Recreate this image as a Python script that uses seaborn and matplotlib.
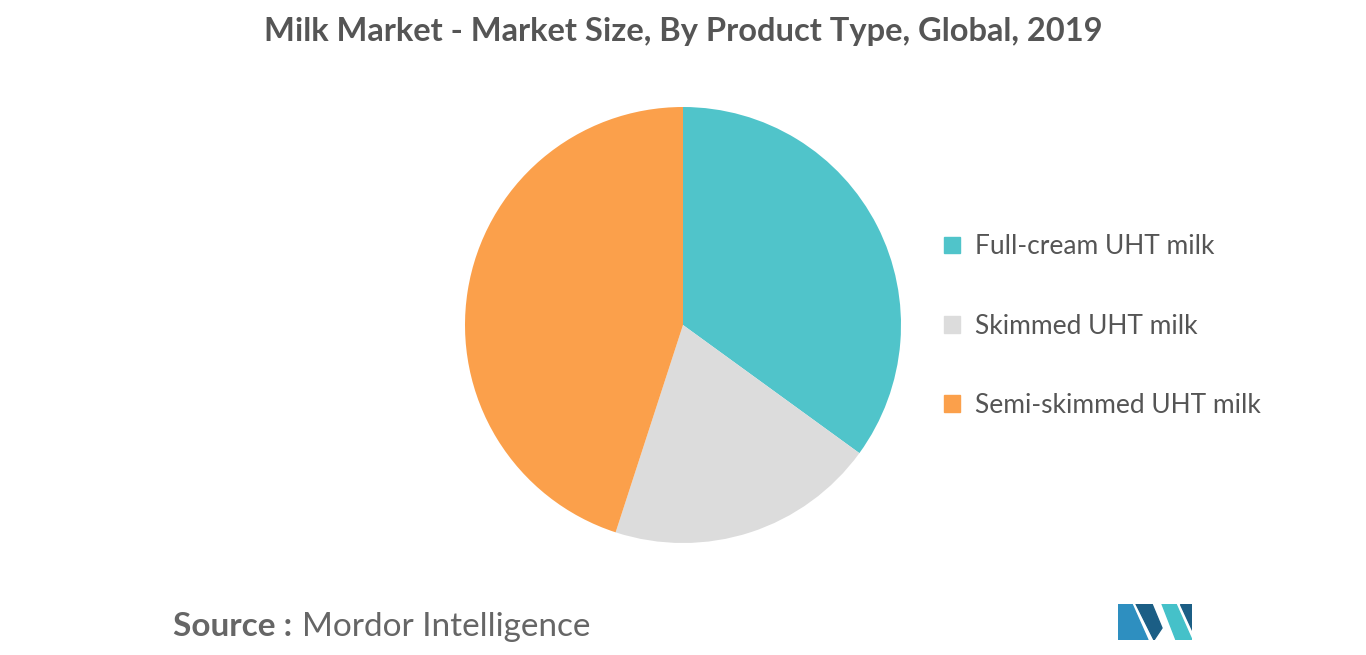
import matplotlib.pyplot as plt
import matplotlib.patches as mpatches
import seaborn as sns

categories = ["Full-cream UHT milk", "Skimmed UHT milk", "Semi-skimmed UHT milk"]
shares = [35, 20, 45]
colors = ["#50C4CA", "#DCDCDC", "#FBA04B"]

sns.set_theme(style="white", font="Lato")
fig = plt.figure(figsize=(13.66, 6.55), dpi=100)
ax = fig.add_axes([(683 - 218) / 1366, (655 - 325 - 218) / 655, 436 / 1366, 436 / 655])
ax.pie(shares, colors=sns.color_palette(colors), startangle=90, counterclock=False,
       wedgeprops=dict(linewidth=0), radius=1)
ax.set_xlim(-1, 1)
ax.set_ylim(-1, 1)
ax.set_aspect("equal")

handles = [mpatches.Patch(color=c, label=l) for c, l in zip(colors, categories)]
fig.legend(handles=handles, loc="center left", bbox_to_anchor=(920 / 1366, 1 - 326 / 655),
           frameon=False, fontsize=19, labelspacing=2.05, handlelength=0.6, handleheight=0.6,
           handletextpad=0.6, labelcolor="#555555")

fig.text(0.5, 1 - 32 / 655, "Milk Market - Market Size, By Product Type, Global, 2019",
         ha="center", va="center", fontsize=23.5, fontweight="bold", color="#555555")
fig.text(173 / 1366, 1 - 627 / 655, "Source :", ha="left", va="center",
         fontsize=24, fontweight="bold", color="#666666")
fig.text(302 / 1366, 1 - 627 / 655, "Mordor Intelligence", ha="left", va="center",
         fontsize=24, color="#666666")

# logo
la = fig.add_axes([1118 / 1366, 1 - 640 / 655, 74 / 1366, 36 / 655])
la.set_xlim(0, 74); la.set_ylim(0, 36); la.axis("off")
la.add_patch(mpatches.Polygon([(0, 0), (0, 36), (14, 36), (30, 0)], color="#2E8FC0"))
la.add_patch(mpatches.Polygon([(18, 36), (34, 36), (44, 12), (36, 0)], color="#1B5E85"))
la.add_patch(mpatches.Polygon([(44, 36), (58, 36), (74, 0), (58, 0)], color="#45C1C9"))
la.add_patch(mpatches.Polygon([(62, 36), (74, 36), (74, 10)], color="#1B5E85"))

fig.savefig("out.png", dpi=100)
